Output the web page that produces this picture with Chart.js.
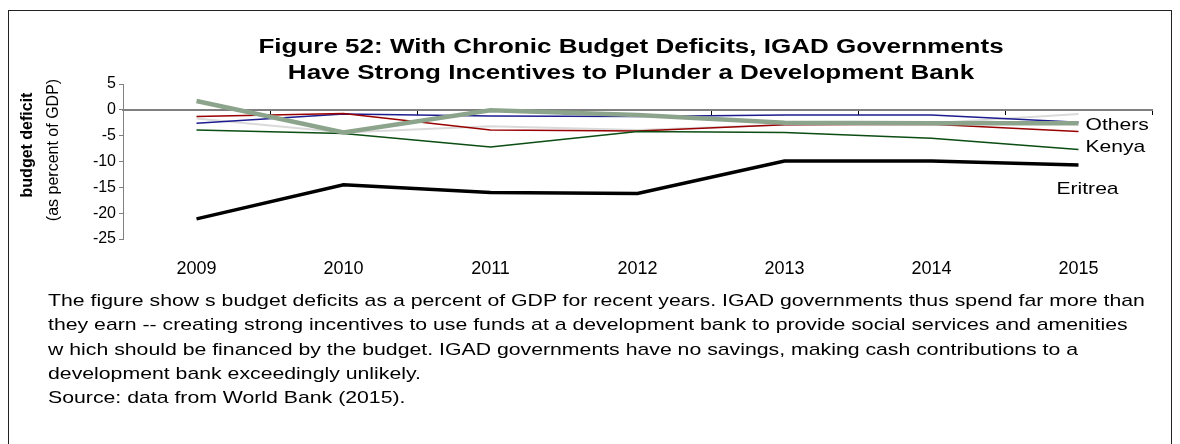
<!DOCTYPE html>
<html>
<head>
<meta charset="utf-8">
<script src="https://cdn.jsdelivr.net/npm/chart.js@4.4.1/dist/chart.umd.min.js"></script>
<style>
  body { margin: 0; background: #fff; font-family: "Liberation Sans", Arial, sans-serif; }
  #frame { position: absolute; left: 8px; top: 10px; width: 1164px; height: 440px; border: 1px solid #222; border-bottom: none; box-sizing: border-box; }
  #wrap { position: absolute; left: 0; top: 0; width: 1180px; height: 290px; }
  #note { position: absolute; left: 48px; top: 289px; font-size: 17px; line-height: 24.3px; color: #000; white-space: nowrap;
          transform: scaleX(1.25); transform-origin: 0 0; }
</style>
</head>
<body>
<div id="frame"></div>
<div id="wrap"><canvas id="deficits"></canvas></div>
<div id="note">
  The figure show s budget deficits as a percent of GDP for recent years. IGAD governments thus spend far more than<br>
  they earn -- creating strong incentives to use funds at a development bank to provide social services and amenities<br>
  w hich should be financed by the budget. IGAD governments have no savings, making cash contributions to a<br>
  development bank exceedingly unlikely.<br>
  Source: data from World Bank (2015).
</div>
<script>
const years = ['2009', '2010', '2011', '2012', '2013', '2014', '2015'];

// budget balance, percent of GDP
const eritrea = [-21.1, -14.5, -16.0, -16.2, -9.9, -9.9, -10.7];
const kenya = [-3.9, -4.6, -7.2, -4.2, -4.4, -5.5, -7.7];
const others = [1.7, -4.4, -0.1, -1.0, -2.5, -2.6, -2.6];
const redSeries = [-1.3, -0.7, -3.9, -4.1, -2.9, -2.8, -4.2];
const blueSeries = [-2.6, -0.8, -1.2, -1.3, -1.0, -1.0, -2.4];
const greySeries = [-1.7, -4.4, -3.2, -3.9, -2.9, -2.6, -0.8];

const yTicks = [5, 0, -5, -10, -15, -20, -25];

const titleLines = ['Figure 52: With Chronic Budget Deficits, IGAD Governments',
                    'Have Strong Incentives to Plunder a Development Bank'];

const FONT = '"Liberation Sans", Arial, sans-serif';

// text drawn with a horizontal stretch factor, optionally rotated
function putText(ctx, text, x, y, font, align, sx, rot) {
  ctx.save();
  ctx.translate(x, y);
  if (rot) ctx.rotate(rot);
  ctx.scale(sx, 1);
  ctx.font = font;
  ctx.fillStyle = '#000';
  ctx.textAlign = align;
  ctx.textBaseline = 'middle';
  ctx.fillText(text, 0, 0);
  ctx.restore();
}

const chartText = {
  id: 'chartText',
  afterDraw(chart) {
    const ctx = chart.ctx;
    const area = chart.chartArea;
    titleLines.forEach((t, i) => putText(ctx, t, 631, 47 + i * 26, 'bold 20px ' + FONT, 'center', 1.3));
    putText(ctx, 'budget deficit', 28, 145, 'bold 16px ' + FONT, 'center', 1, -Math.PI / 2);
    putText(ctx, '(as percent of GDP)', 54, 150, '16px ' + FONT, 'center', 1, -Math.PI / 2);
    chart.data.datasets.forEach((ds, i) => {
      if (!ds.endLabel) return;
      const pts = chart.getDatasetMeta(i).data;
      const p = pts[pts.length - 1];
      putText(ctx, ds.endLabel, p.x + ds.endLabelDx, p.y + ds.endLabelDy, '17px ' + FONT, 'left', 1.24);
    });
  }
};

function line(label, data, color, width) {
  return { label, data, borderColor: color, borderWidth: width, pointRadius: 0, fill: false, tension: 0 };
}

const datasets = [
  Object.assign(line('Eritrea', eritrea, '#000000', 3.5), { endLabel: 'Eritrea', endLabelDx: -22, endLabelDy: 24 }),
  Object.assign(line('Others', others, '#8ca48c', 4.5), { endLabel: 'Others', endLabelDx: 7, endLabelDy: 2 }),
  Object.assign(line('Kenya', kenya, '#0b4d12', 1.5), { endLabel: 'Kenya', endLabelDx: 7, endLabelDy: -2 }),
  line('red', redSeries, '#990000', 1.5),
  line('blue', blueSeries, '#1c1c8f', 1.5),
  line('grey', greySeries, '#dadada', 2)
];

new Chart(document.getElementById('deficits'), {
  type: 'line',
  data: { labels: years, datasets },
  plugins: [chartText],
  options: {
    responsive: true,
    maintainAspectRatio: false,
    animation: false,
    layout: { padding: { left: 0, right: 28, top: 84, bottom: 11 } },
    plugins: {
      legend: { display: false },
      tooltip: { enabled: false }
    },
    scales: {
      x: {
        type: 'category',
        offset: true,
        grid: { display: false, drawTicks: false },
        border: { display: false },
        ticks: { color: '#000', padding: 19, font: { family: FONT, size: 18 } },
        afterFit(scale) { scale.height = 40; }
      },
      x2: {
        type: 'category',
        position: { y: 0 },
        offset: true,
        grid: { offset: true, drawOnChartArea: false, tickLength: 4, color: '#000' },
        border: { color: '#808080', width: 2 },
        ticks: { display: false }
      },
      y: {
        min: -25,
        max: 5,
        afterBuildTicks(scale) { scale.ticks = yTicks.map(v => ({ value: v })); },
        grid: { drawOnChartArea: false, tickLength: 4, color: '#808080' },
        border: { color: '#808080', width: 1 },
        ticks: { color: '#000', padding: 3, font: { family: FONT, size: 16 } },
        afterFit(scale) { scale.width = 123; }
      }
    }
  }
});
</script>
</body>
</html>
